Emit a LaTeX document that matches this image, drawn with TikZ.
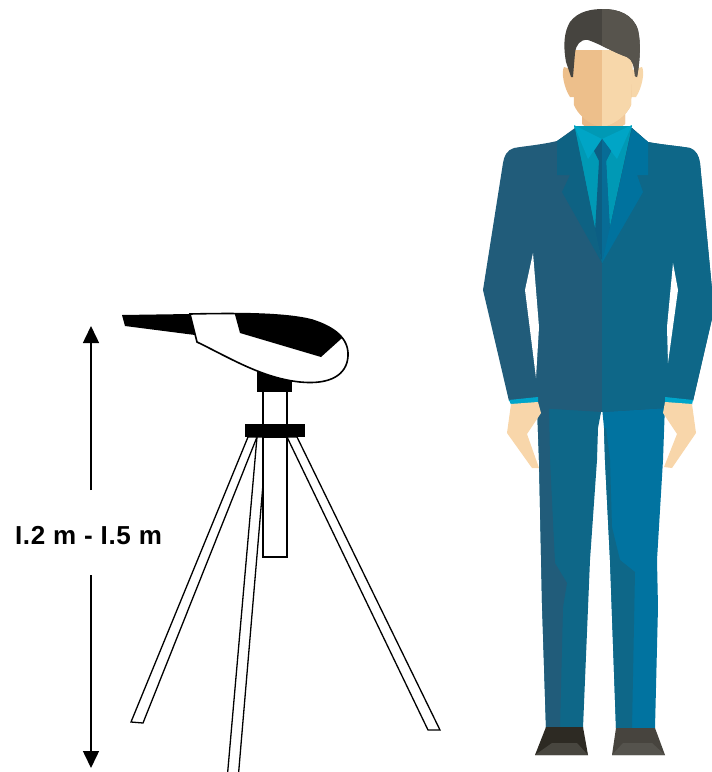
\documentclass[tikz,border=0pt]{standalone}
\usepackage{fontspec}
\setmainfont{Liberation Sans}
\newfontfamily\dimfont[LetterSpace=2.5]{Liberation Sans}
\usetikzlibrary{arrows.meta}

% palette
\definecolor{hairL}{HTML}{46443F}
\definecolor{hairR}{HTML}{57544D}
\definecolor{skinL}{HTML}{EDBF8B}
\definecolor{skinR}{HTML}{F7D7AA}
\definecolor{neckL}{HTML}{E9B886}
\definecolor{neckR}{HTML}{F1C99B}
\definecolor{handC}{HTML}{F8D6AA}
\definecolor{jacketL}{HTML}{215C7A}
\definecolor{jacketR}{HTML}{0E6788}
\definecolor{lapelL}{HTML}{0E6283}
\definecolor{lapelR}{HTML}{00729E}
\definecolor{shirtC}{HTML}{0099B5}
\definecolor{collarC}{HTML}{00A5C6}
\definecolor{cuffC}{HTML}{00A5CA}
\definecolor{tieL}{HTML}{0C5E83}
\definecolor{tieR}{HTML}{076C96}
\definecolor{pantsM}{HTML}{0E6788}
\definecolor{pantsS}{HTML}{215C7A}
\definecolor{pantsB}{HTML}{0173A0}
\definecolor{shoeTopL}{HTML}{2D2A23}
\definecolor{shoeLowL}{HTML}{48463F}
\definecolor{shoeTopR}{HTML}{47443E}
\definecolor{shoeLowR}{HTML}{55534D}

\tikzset{
  tripodpart/.style={draw=black, fill=white, line width=1.3pt, line join=miter},
  meterline/.style={draw=black, line width=1.6pt},
  dimarrow/.style={line width=1.5pt, -{Triangle[width=16pt,length=17pt]}},
  dimtext/.style={font=\dimfont\bfseries\fontsize{26}{30}\selectfont, inner sep=0pt},
}

% outlines used twice (left colour, then right half clipped)
\def\facepath{(573,50) -- (574,105) .. controls (577,113) and (588,125) .. (602,127) .. controls (616,125) and (628,113) .. (631,105) -- (633,50) -- cycle}
\def\neckpath{(582,100) -- (625,100) -- (625,124) -- (602,140) -- (582,124) -- cycle}
\def\hairpath{(571,77) -- (566,62) .. controls (563,45) and (564,32) .. (570,22) .. controls (578,11) and (592,9) .. (603,9) .. controls (618,9) and (633,14) .. (638,30) .. controls (641,42) and (640,62) .. (637,77) -- (635,76) .. controls (634,66) and (633,60) .. (627,57) .. controls (615,53) and (600,44) .. (588,40) .. controls (580,39) and (576,45) .. (575,53) -- (573,77) -- cycle}
\def\jacketpath{(602,138) -- (575,128) -- (557,141) .. controls (540,145) and (525,146) .. (514,148) .. controls (507,150) and (504,156) .. (503,163) -- (483,290) -- (509,401) -- (538,398) -- (538,408) -- (602,412) -- (665,408) -- (665,398) -- (693,401) -- (714,310) -- (700,163) .. controls (699,156) and (696,150) .. (690,148) .. controls (679,146) and (664,145) .. (648,142) -- (632,128) -- cycle}
\def\tiepath{(602,139) -- (611,151) -- (606,161) -- (610,232) -- (602,262) -- (595,232) -- (599,161) -- (594,151) -- cycle}

\begin{document}
\begin{tikzpicture}[x=1pt, y=-1pt]
\useasboundingbox (0,0) rectangle (712,772);

% ---------------- tripod ----------------
\begin{scope}
  \clip (0,0) rectangle (712,772);
  \path[tripodpart] (248,437) -- (257,437) -- (143,723) -- (131,722) -- cycle;
  \path[tripodpart] (287,437) -- (297,437) -- (440,730) -- (428,730) -- cycle;
  \path[tripodpart] (257,437) -- (267,437) -- (238,780) -- (227,780) -- cycle;
\end{scope}
\path[tripodpart] (263,437) rectangle (287,557);
\path[tripodpart] (263,390) rectangle (287,425);
\fill[black] (245,424) rectangle (305,437);
\fill[black] (257,362) rectangle (292,392);

% ---------------- sound level meter ----------------
\fill[black] (122,315) -- (190,314) -- (195,335) -- (125,326) -- cycle;
\def\meterbody{(190,314) -- (197,342) .. controls (230,358) and (262,378) .. (300,382) .. controls (330,385) and (347,375) .. (348,356) .. controls (349,338) and (334,327) .. (312,320) .. controls (285,313) and (235,313) .. (190,314) -- cycle}
\fill[white] \meterbody;
\begin{scope}
  \clip \meterbody;
  \fill[black] (231,300) -- (240,333) -- (321,357) -- (341,339) -- (362,318) -- (362,300) -- cycle;
\end{scope}
\path[meterline] \meterbody;

% ---------------- height dimension ----------------
\node[dimtext] (dimlabel) at (88.5,536) {I.2 m - I.5 m};
\coordinate (dimtop) at (91,326);
\coordinate (dimbot) at (91,768);
\coordinate (gapA) at (91,490);
\coordinate (gapB) at (91,575);
\draw[dimarrow] (gapA) -- (dimtop);
\draw[dimarrow] (gapB) -- (dimbot);

% ---------------- standing man ----------------
\begin{scope}
\clip (0,0) rectangle (712,772);

% trousers
\fill[pantsM] (537,404) -- (602,407) -- (598,428) -- (597,460) -- (590,560) -- (583,728) -- (546,728) -- (542,603) -- (539,460) -- cycle;
\fill[pantsS] (537,404) -- (549,404) -- (550,460) -- (555,563) -- (567,583) -- (563,607) -- (560,728) -- (546,728) -- (542,603) -- (539,460) -- cycle;
\fill[pantsB] (602,407) -- (665,404) -- (663,460) -- (657,560) -- (658,607) -- (655,728) -- (616,728) -- (610,560) -- (605,460) -- (604,428) -- cycle;
\fill[pantsM] (604,428) -- (606,428) -- (610,460) -- (612,527) -- (620,560) -- (635,572) -- (632,728) -- (616,728) -- (610,560) -- (605,460) -- cycle;

% shoes
\fill[shoeTopL] (546,727) -- (583,727) -- (588,755) -- (535,755) -- cycle;
\fill[shoeLowL] (552,743) -- (577,743) -- (588,755) -- (535,755) -- cycle;
\fill[shoeTopR] (616,728) -- (655,728) -- (665,755) -- (612,755) -- cycle;
\fill[shoeLowR] (623,743) -- (652,743) -- (665,755) -- (612,755) -- cycle;

% jacket, two tones split down the middle
\fill[jacketL] \jacketpath;
\begin{scope}
  \clip (602,0) rectangle (720,772);
  \fill[jacketR] \jacketpath;
\end{scope}
% gaps between arms and body
\fill[white] (533,253) -- (525,290) -- (536,378) -- (539,327) -- cycle;
\fill[white] (673,263) -- (678,290) -- (668,363) -- (667,327) -- cycle;

% cuffs and hands
\fill[cuffC] (509,400) -- (538,397) -- (538,402.5) -- (511,404.5) -- cycle;
\fill[cuffC] (665,397) -- (693,400) -- (692,404.5) -- (665,402.5) -- cycle;
\fill[handC] (511,404) -- (538,402) -- (541,413) -- (527,434) -- (539,468) -- (532,468) -- (507,433) -- cycle;
\fill[handC] (665,402) -- (692,404) -- (696,433) -- (672,468) -- (664,467) -- (677,434) -- (663,413) -- cycle;

% neck
\fill[neckL] \neckpath;
\begin{scope}
  \clip (602,0) rectangle (720,772);
  \fill[neckR] \neckpath;
\end{scope}

% ears and face
\fill[skinL] (574,70) -- (564,67) .. controls (561,72) and (564,88) .. (570,97) -- (575,97) -- cycle;
\fill[skinR] (632,70) -- (642,67) .. controls (645,72) and (642,88) .. (636,97) -- (631,97) -- cycle;
\fill[skinL] \facepath;
\begin{scope}
  \clip (602,0) rectangle (720,772);
  \fill[skinR] \facepath;
\end{scope}

% hair
\fill[hairL] \hairpath;
\begin{scope}
  \clip (602,0) rectangle (720,772);
  \fill[hairR] \hairpath;
\end{scope}

% shirt, collar and tie
\fill[shirtC] (574,126) -- (632,126) -- (602,263) -- cycle;
\fill[collarC] (574,125) -- (602,139) -- (588,159) -- cycle;
\fill[collarC] (632,125) -- (602,139) -- (617,159) -- cycle;
\fill[tieL] \tiepath;
\begin{scope}
  \clip (602,0) rectangle (720,772);
  \fill[tieR] \tiepath;
\end{scope}

% lapels
\fill[lapelL] (557,141) -- (575,129) -- (602,263) -- (562,192) -- (570,175) -- (557,175) -- cycle;
\fill[lapelR] (648,142) -- (632,129) -- (602,263) -- (643,192) -- (637,175) -- (648,175) -- cycle;
\end{scope}

\end{tikzpicture}
\end{document}
